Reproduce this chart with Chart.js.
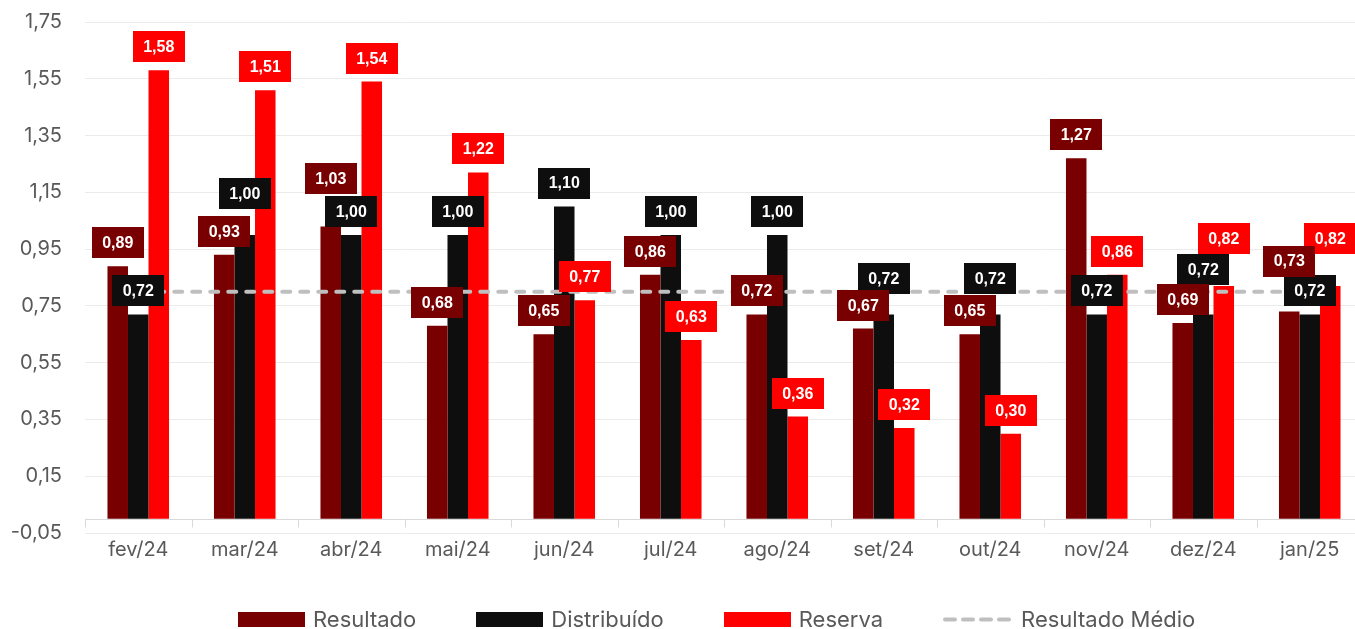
<!DOCTYPE html>
<html lang="pt-BR">
<head>
  <meta charset="UTF-8" />
  <title>Resultado, Distribuído e Reserva por mês</title>
  <script src="https://cdn.jsdelivr.net/npm/chart.js"></script>
  <style>
    html, body {
      margin: 0;
      padding: 0;
      background: #ffffff;
      overflow: hidden;
    }

    #wrap {
      position: relative;
      width: 1366px;
      height: 629px;
    }

    #legend {
      position: absolute;
      left: 238px;
      top: 606px;
      display: flex;
      align-items: center;
      font-family: Inter, 'Open Sans', sans-serif;
      font-size: 22px;
      color: #595959;
    }

    .item {
      display: flex;
      align-items: center;
      margin-right: 60px;
    }

    .swatch {
      width: 67px;
      height: 15px;
      margin-right: 8px;
    }
  </style>
</head>
<body>
  <div id="wrap">
    <canvas id="chart"></canvas>
    <div id="legend"></div>
  </div>

  <script>
    const meses = ['fev/24', 'mar/24', 'abr/24', 'mai/24', 'jun/24', 'jul/24', 'ago/24', 'set/24', 'out/24', 'nov/24', 'dez/24', 'jan/25'];
    const resultado   = [0.89, 0.93, 1.03, 0.68, 0.65, 0.86, 0.72, 0.67, 0.65, 1.27, 0.69, 0.73];
    const distribuido = [0.72, 1.00, 1.00, 1.00, 1.10, 1.00, 1.00, 0.72, 0.72, 0.72, 0.72, 0.72];
    const reserva     = [1.58, 1.51, 1.54, 1.22, 0.77, 0.63, 0.36, 0.32, 0.30, 0.86, 0.82, 0.82];
    const resultadoMedio = [0.80, 0.80, 0.80, 0.80, 0.80, 0.80, 0.80, 0.80, 0.80, 0.80, 0.80, 0.80];
    const yTicks = [-0.05, 0.15, 0.35, 0.55, 0.75, 0.95, 1.15, 1.35, 1.55, 1.75];

    // labels that were pushed up by hand in the original (px above the default spot)
    const liftResultado   = [0, 0, 24, 0, 0, 0, 0, 0, 0, 0, 0, 27];
    const liftDistribuido = [0, 18, 0, 0, 0, 0, 0, 12, 12, 0, 21, 0];
    const liftReserva     = [0, 0, 0, 0, 0, 0, 0, 0, 0, 0, 24, 24];
    const lifts = [liftResultado, liftDistribuido, liftReserva];

    const fmt = v => Number(v).toFixed(2).replace('.', ',');
    const textColor = '#595959';
    const uiFont = "Inter, 'Open Sans', sans-serif";

    // axis line at zero with small marks between the months
    const zeroAxis = {
      id: 'zeroAxis',
      beforeDatasetsDraw(chart) {
        const { ctx, chartArea, scales: { x, y } } = chart;
        const y0 = Math.round(y.getPixelForValue(0)) + 0.5;
        const step = x.width / meses.length;
        ctx.save();
        ctx.strokeStyle = '#D9D9D9';
        ctx.lineWidth = 1;
        ctx.beginPath();
        ctx.moveTo(chartArea.left, y0);
        ctx.lineTo(chartArea.right, y0);
        for (let i = 0; i <= meses.length; i++) {
          const px = Math.round(x.left + i * step) + 0.5;
          ctx.moveTo(px, y0);
          ctx.lineTo(px, y0 + 8);
        }
        ctx.stroke();
        ctx.restore();
      }
    };

    // value labels in filled boxes above each bar
    const boxLabels = {
      id: 'boxLabels',
      afterDatasetsDraw(chart) {
        const ctx = chart.ctx;
        ctx.save();
        ctx.font = "bold 16px 'Liberation Sans', Arial, sans-serif";
        ctx.textAlign = 'center';
        ctx.textBaseline = 'middle';
        [2, 1, 0].forEach(di => {
          const ds = chart.data.datasets[di];
          const meta = chart.getDatasetMeta(di);
          meta.data.forEach((bar, i) => {
            const txt = fmt(ds.data[i]);
            const w = ctx.measureText(txt).width + 21;
            const h = 31;
            const cy = bar.y - 23.5 - lifts[di][i];
            ctx.fillStyle = ds.backgroundColor;
            ctx.fillRect(Math.round(bar.x - w / 2), Math.round(cy - h / 2), Math.round(w), h);
            ctx.fillStyle = '#ffffff';
            ctx.fillText(txt, bar.x, cy + 1);
          });
        });
        ctx.restore();
      }
    };

    const barDefaults = { order: 1, barPercentage: 1, categoryPercentage: 0.578, borderWidth: 0 };

    const chart = new Chart(document.getElementById('chart'), {
      type: 'bar',
      data: {
        labels: meses,
        datasets: [
          { ...barDefaults, label: 'Resultado', data: resultado, backgroundColor: '#790000' },
          { ...barDefaults, label: 'Distribuído', data: distribuido, backgroundColor: '#0E0E0E' },
          { ...barDefaults, label: 'Reserva', data: reserva, backgroundColor: '#FF0000' },
          {
            type: 'line',
            label: 'Resultado Médio',
            data: resultadoMedio,
            order: 0,
            borderColor: '#BFBFBF',
            borderWidth: 4,
            borderDash: [8, 10],
            borderCapStyle: 'round',
            pointRadius: 0,
            fill: false
          }
        ]
      },
      options: {
        responsive: true,
        maintainAspectRatio: false,
        animation: false,
        layout: { padding: { top: 22, right: 3, bottom: 62, left: 0 } },
        plugins: {
          legend: { display: false },
          tooltip: { enabled: false }
        },
        scales: {
          x: {
            grid: { display: false, drawTicks: false },
            border: { display: false },
            ticks: { color: textColor, font: { family: uiFont, size: 20 }, padding: 5 }
          },
          y: {
            min: -0.05,
            max: 1.75,
            afterBuildTicks: s => { s.ticks = yTicks.map(v => ({ value: v })); },
            afterFit: s => { s.width = 85; },
            // invisible tick marks keep the labels away from the plot
            grid: { color: '#EBEBEB', lineWidth: 1, drawTicks: true, tickLength: 23, tickColor: 'rgba(0,0,0,0)' },
            border: { display: false },
            ticks: { color: textColor, font: { family: uiFont, size: 20 }, padding: 0, callback: v => fmt(v) }
          }
        }
      },
      plugins: [zeroAxis, boxLabels]
    });

    // html legend built from the datasets
    const legend = document.getElementById('legend');
    chart.data.datasets.forEach(ds => {
      const item = document.createElement('div');
      item.className = 'item';
      let sw;
      if (ds.type === 'line') {
        sw = document.createElementNS('http://www.w3.org/2000/svg', 'svg');
        sw.setAttribute('width', '70');
        sw.setAttribute('height', '15');
        sw.style.marginRight = '8px';
        sw.innerHTML = '<line x1="2" y1="7.5" x2="68" y2="7.5" stroke="' + ds.borderColor +
          '" stroke-width="4" stroke-dasharray="10 8" stroke-linecap="round"/>';
      } else {
        sw = document.createElement('span');
        sw.className = 'swatch';
        sw.style.background = ds.backgroundColor;
      }
      const txt = document.createElement('span');
      txt.textContent = ds.label;
      item.appendChild(sw);
      item.appendChild(txt);
      legend.appendChild(item);
    });
  </script>
</body>
</html>
